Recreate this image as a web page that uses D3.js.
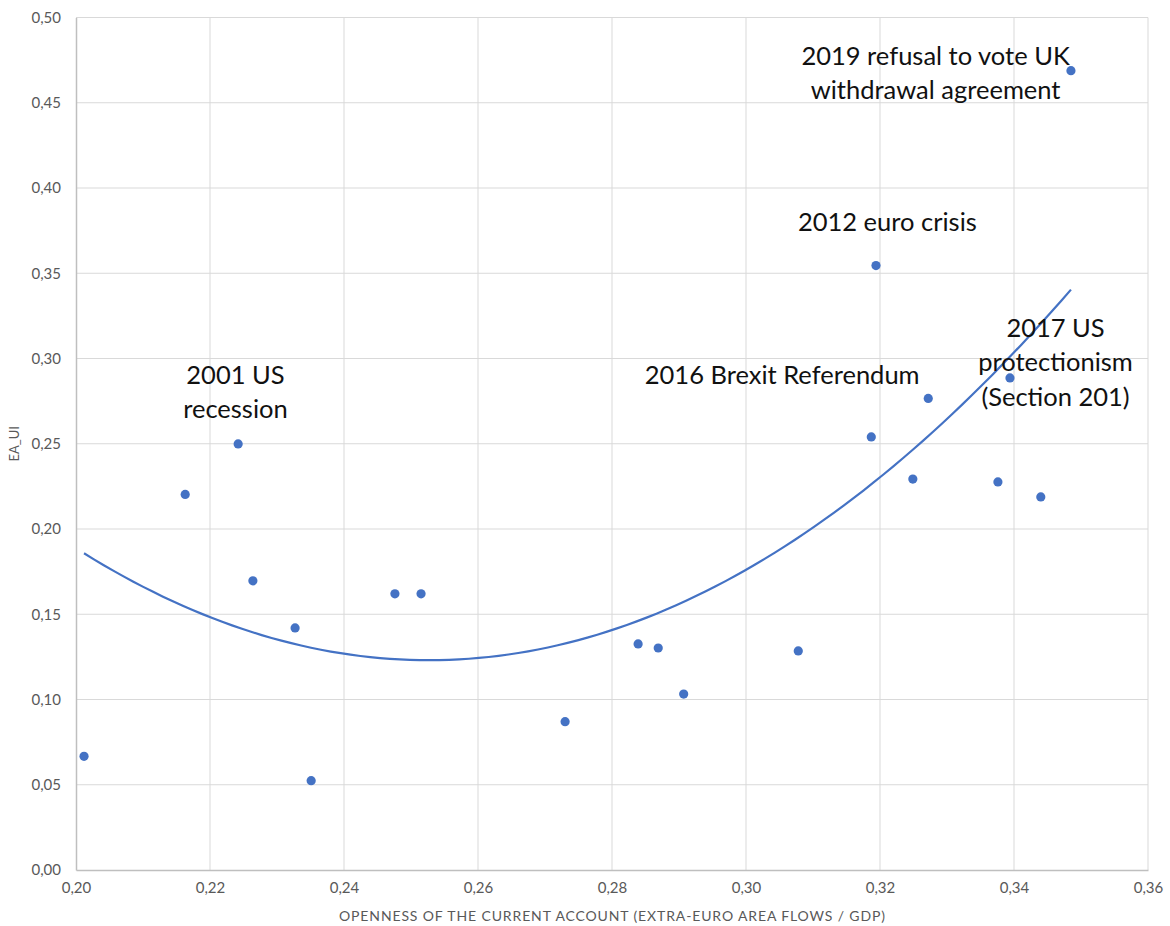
<!DOCTYPE html>
<html>
<head>
<meta charset="utf-8">
<script src="https://cdn.jsdelivr.net/npm/d3@7"></script>
<style>
  body { margin: 0; background: #fff; }
  svg { display: block; font-family: Lato, "Open Sans", sans-serif; }
</style>
</head>
<body>
<div id="chart"></div>
<script>
// openness of the current account (x) vs EA_UI (y)
const openness = [0.2012, 0.2163, 0.2242, 0.2264, 0.2327, 0.2351, 0.2476, 0.2515, 0.2730, 0.2839, 0.2869,
    0.2907, 0.3078, 0.3194, 0.3187, 0.3249, 0.3272, 0.3394, 0.3376, 0.3440, 0.3485];
const eaUi = [0.0667, 0.2203, 0.2499, 0.1696, 0.1420, 0.0524, 0.1620, 0.1620, 0.0870, 0.1326, 0.1302,
    0.1032, 0.1285, 0.3545, 0.2540, 0.2293, 0.2766, 0.2886, 0.2276, 0.2188, 0.4688];
const xTicks = [0.20, 0.22, 0.24, 0.26, 0.28, 0.30, 0.32, 0.34, 0.36];
const yTicks = [0, 0.05, 0.10, 0.15, 0.20, 0.25, 0.30, 0.35, 0.40, 0.45, 0.50];
const notes = [
    { lines: ['2001 US', 'recession'], x: 0.2238, y: 0.2905 },
    { lines: ['2016 Brexit Referendum'], x: 0.3054, y: 0.2905 },
    { lines: ['2012 euro crisis'], x: 0.3211, y: 0.3800 },
    { lines: ['2019 refusal to vote UK', 'withdrawal agreement'], x: 0.3283, y: 0.4775 },
    { lines: ['2017 US', 'protectionism', '(Section 201)'], x: 0.3462, y: 0.3180 }
];

const width = 1170;
const height = 926;
const mLeft = 76, mRight = 1148, mTop = 17.5, mBottom = 870;
const blue = '#4472c4';

const data = openness.map((x, i) => ({ x: x, y: eaUi[i] }));

const xScale = d3.scaleLinear().domain([0.20, 0.36]).range([mLeft, mRight]);
const yScale = d3.scaleLinear().domain([0, 0.50]).range([mBottom, mTop]);
const fmt = (d) => d3.format('.2f')(d).replace('.', ',');

const svg = d3.select('#chart')
    .append('svg')
    .attr('width', width)
    .attr('height', height);

// gridlines
svg.append('g')
    .selectAll('line')
    .data(xTicks.slice(1))
    .join('line')
    .attr('x1', (d) => xScale(d)).attr('x2', (d) => xScale(d))
    .attr('y1', mTop).attr('y2', mBottom)
    .attr('stroke', '#d9d9d9');

svg.append('g')
    .selectAll('line')
    .data(yTicks.slice(1))
    .join('line')
    .attr('x1', mLeft).attr('x2', mRight)
    .attr('y1', (d) => yScale(d)).attr('y2', (d) => yScale(d))
    .attr('stroke', '#d9d9d9');

// axes
const xAxis = svg.append('g')
    .attr('transform', `translate(0, ${mBottom})`)
    .call(d3.axisBottom(xScale).tickValues(xTicks).tickFormat(fmt).tickSize(0).tickPadding(12));
xAxis.select('.domain').attr('stroke', '#bfbfbf').attr('stroke-width', 1.5);

const yAxis = svg.append('g')
    .attr('transform', `translate(${mLeft}, 0)`)
    .call(d3.axisLeft(yScale).tickValues(yTicks).tickFormat(fmt).tickSize(0).tickPadding(15));
yAxis.select('.domain').attr('stroke', '#bfbfbf').attr('stroke-width', 1.5);

svg.selectAll('.tick text')
    .attr('font-family', 'Lato, sans-serif')
    .attr('font-size', 15)
    .attr('fill', '#595959');

// axis titles
svg.append('text')
    .attr('x', (mLeft + mRight) / 2)
    .attr('y', 921)
    .attr('text-anchor', 'middle')
    .attr('font-size', 14)
    .attr('fill', '#595959')
    .attr('textLength', 546)
    .attr('lengthAdjust', 'spacing')
    .text('OPENNESS OF THE CURRENT ACCOUNT (EXTRA-EURO AREA FLOWS / GDP)');

svg.append('text')
    .attr('transform', `translate(19, ${(mTop + mBottom) / 2}) rotate(-90)`)
    .attr('text-anchor', 'middle')
    .attr('font-size', 13)
    .attr('fill', '#595959')
    .text('EA_UI');

// polynomial (order 2) trendline, least squares fit of the points
const fitQuad = (pts) => {
    const s = [0, 0, 0, 0, 0];
    const t = [0, 0, 0];
    pts.forEach((p) => {
        for (let k = 0; k < 5; k++) s[k] += Math.pow(p.x, k);
        for (let k = 0; k < 3; k++) t[k] += Math.pow(p.x, k) * p.y;
    });
    const m = [[s[0], s[1], s[2], t[0]], [s[1], s[2], s[3], t[1]], [s[2], s[3], s[4], t[2]]];
    for (let i = 0; i < 3; i++) {
        for (let j = i + 1; j < 3; j++) {
            const f = m[j][i] / m[i][i];
            for (let k = i; k < 4; k++) m[j][k] -= f * m[i][k];
        }
    }
    const c = [0, 0, 0];
    for (let i = 2; i >= 0; i--) {
        let v = m[i][3];
        for (let k = i + 1; k < 3; k++) v -= m[i][k] * c[k];
        c[i] = v / m[i][i];
    }
    return c;
};
const coef = fitQuad(data);
const [xMin, xMax] = d3.extent(openness);
const trend = d3.range(0, 101).map((i) => {
    const x = xMin + (xMax - xMin) * i / 100;
    return { x: x, y: coef[0] + coef[1] * x + coef[2] * x * x };
});

const trendLine = d3.line()
    .x((d) => xScale(d.x))
    .y((d) => yScale(d.y));

svg.append('path')
    .datum(trend)
    .attr('fill', 'none')
    .attr('stroke', blue)
    .attr('stroke-width', 2.2)
    .attr('d', trendLine);

// points
svg.append('g')
    .selectAll('circle')
    .data(data)
    .join('circle')
    .attr('cx', (d) => xScale(d.x))
    .attr('cy', (d) => yScale(d.y))
    .attr('r', 4.6)
    .attr('fill', blue);

// annotations
const noteG = svg.append('g')
    .attr('font-size', 25.5)
    .attr('fill', '#111')
    .attr('text-anchor', 'middle');

notes.forEach((n) => {
    const t = noteG.append('text')
        .attr('x', xScale(n.x))
        .attr('y', yScale(n.y));
    n.lines.forEach((line, i) => {
        t.append('tspan')
            .attr('x', xScale(n.x))
            .attr('dy', i === 0 ? '0.35em' : '1.35em')
            .text(line);
    });
});
</script>
</body>
</html>
